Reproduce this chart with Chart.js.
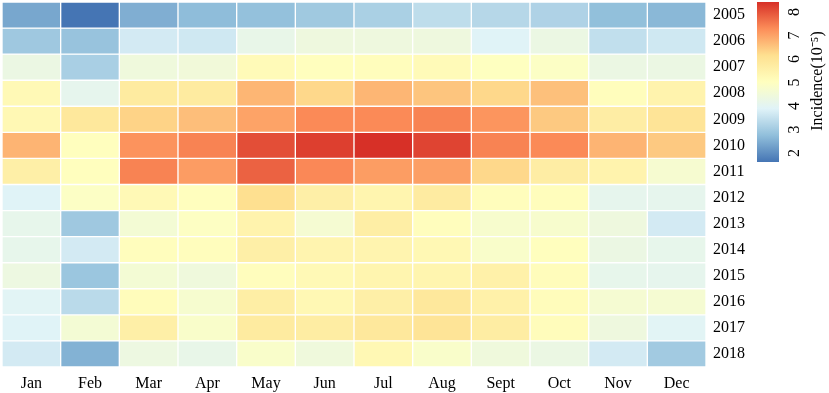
<!DOCTYPE html>
<html>
<head>
<meta charset="utf-8">
<script src="https://cdn.jsdelivr.net/npm/chart.js@4.4.1/dist/chart.umd.min.js"></script>
<style>
  html, body { margin: 0; padding: 0; background: #fff; }
  #wrap { position: relative; width: 829px; height: 393px; }
  #heat { position: absolute; left: 0; top: 0; }
  #legend { position: absolute; left: 750px; top: 0; }
</style>
</head>
<body>
<div id="wrap">
  <canvas id="heat" width="829" height="393"></canvas>
  <canvas id="legend" width="79" height="164"></canvas>
</div>
<script>
// Monthly incidence (per 10^5), one row per year, Jan..Dec
const months = ["Jan", "Feb", "Mar", "Apr", "May", "Jun", "Jul", "Aug", "Sept", "Oct", "Nov", "Dec"];
const years = ["2005", "2006", "2007", "2008", "2009", "2010", "2011", "2012", "2013", "2014", "2015", "2016", "2017", "2018"];

const y2005 = [2.38, 1.62, 2.50, 2.72, 2.80, 2.97, 3.12, 3.40, 3.28, 3.18, 2.77, 2.65];
const y2006 = [2.95, 2.85, 3.70, 3.65, 4.20, 4.40, 4.40, 4.40, 3.90, 4.30, 3.45, 3.65];
const y2007 = [4.30, 3.10, 4.45, 4.50, 5.20, 5.05, 5.10, 5.20, 5.00, 4.90, 4.30, 4.30];
const y2008 = [5.25, 4.10, 5.77, 5.77, 6.73, 6.27, 6.73, 6.53, 6.27, 6.60, 5.10, 5.47];
const y2009 = [5.28, 5.86, 6.34, 6.62, 7.00, 7.33, 7.33, 7.42, 7.19, 6.47, 5.67, 6.00];
const y2010 = [6.76, 5.05, 7.21, 7.42, 8.06, 8.25, 8.43, 8.18, 7.42, 7.33, 6.76, 6.47];
const y2011 = [5.60, 5.05, 7.42, 7.09, 7.82, 7.35, 7.08, 7.05, 6.27, 5.67, 5.45, 4.69];
const y2012 = [3.90, 4.90, 5.25, 5.05, 6.15, 5.60, 5.40, 5.75, 5.10, 5.10, 4.10, 4.10];
const y2013 = [4.15, 2.95, 4.60, 4.95, 5.45, 4.65, 5.65, 5.08, 4.75, 4.75, 4.40, 3.70];
const y2014 = [4.15, 3.70, 5.08, 5.08, 5.60, 5.42, 5.42, 5.28, 4.80, 5.05, 4.30, 4.15];
const y2015 = [4.35, 2.90, 4.60, 4.45, 5.08, 5.25, 5.40, 5.40, 5.55, 5.12, 4.15, 4.10];
const y2016 = [3.95, 3.35, 5.12, 4.70, 5.65, 5.28, 5.60, 5.86, 5.55, 5.12, 4.65, 4.65];
const y2017 = [3.90, 4.60, 5.60, 4.80, 5.77, 5.70, 5.86, 6.00, 5.70, 5.12, 4.40, 3.95];
const y2018 = [3.70, 2.55, 4.35, 4.20, 4.80, 4.45, 5.28, 4.80, 4.45, 4.30, 3.70, 3.00];

const rows = [y2005, y2006, y2007, y2008, y2009, y2010, y2011, y2012, y2013, y2014, y2015, y2016, y2017, y2018];

// colour scale
const scaleMin = 1.62;
const scaleMax = 8.43;
const legendTicks = [2, 3, 4, 5, 6, 7, 8];
const legendTitle = "Incidence(10\u207B\u2075)";
const rampStops = ["#4575b4", "#91bfdb", "#e0f3f8", "#ffffbf", "#fee090", "#fc8d59", "#d73027"];

const FONT = '"Liberation Serif", "Times New Roman", serif';

function hexRgb(h) {
  return [1, 3, 5].map(i => parseInt(h.slice(i, i + 2), 16));
}
const rampRgb = rampStops.map(hexRgb);

function colorFor(v) {
  let t = (v - scaleMin) / (scaleMax - scaleMin);
  t = Math.max(0, Math.min(1, t));
  const pos = t * (rampRgb.length - 1);
  const i = Math.min(Math.floor(pos), rampRgb.length - 2);
  const f = pos - i;
  const a = rampRgb[i], b = rampRgb[i + 1];
  const c = a.map((x, k) => Math.round(x + (b[k] - x) * f));
  return `rgb(${c[0]},${c[1]},${c[2]})`;
}

// no half-label padding at the ends of vertical axes
const noEndPadding = (s) => { s.paddingTop = 0; s.paddingBottom = 0; };

// ---- heatmap: stacked unit bars, one dataset per year ----
new Chart(document.getElementById("heat"), {
  type: "bar",
  data: {
    labels: months,
    datasets: years.map((yr, i) => ({
      label: yr,
      data: months.map(() => 1),
      backgroundColor: rows[i].map(colorFor),
      borderColor: "#ffffff",
      borderWidth: 1,
      borderSkipped: false,
      barPercentage: 1,
      categoryPercentage: 1,
    }))
  },
  options: {
    responsive: false,
    animation: false,
    layout: { padding: { left: 2, top: 2, right: 77, bottom: 0 } },
    plugins: { legend: { display: false }, tooltip: { enabled: false } },
    scales: {
      x: {
        stacked: true,
        grid: { display: false, drawTicks: false },
        border: { display: false },
        afterFit: (s) => { s.height = 26; s.paddingLeft = 0; s.paddingRight = 0; },
        ticks: { color: "#000", font: { family: FONT, size: 16 }, padding: 7 }
      },
      y: { stacked: true, min: 0, max: 14, reverse: true, display: false },
      yYears: {
        axis: "y",
        type: "category",
        labels: years,
        position: "right",
        offset: true,
        grid: { display: false, drawTicks: false },
        border: { display: false },
        afterFit: (s) => { s.width = 46; noEndPadding(s); },
        ticks: { color: "#000", font: { family: FONT, size: 16 }, padding: 7 }
      }
    }
  }
});

// ---- colour bar legend ----
const legendTitlePlugin = {
  id: "legendTitle",
  afterDraw(chart) {
    const ctx = chart.ctx;
    ctx.save();
    ctx.translate(68, 81);
    ctx.rotate(-Math.PI / 2);
    ctx.font = `16px ${FONT}`;
    ctx.fillStyle = "#000";
    ctx.textAlign = "center";
    ctx.textBaseline = "middle";
    ctx.fillText(legendTitle, 0, 0);
    ctx.restore();
  }
};

new Chart(document.getElementById("legend"), {
  type: "bar",
  data: {
    labels: [""],
    datasets: [{
      data: [[scaleMin, scaleMax]],
      backgroundColor: (c) => {
        const { ctx, chartArea, scales } = c.chart;
        if (!chartArea) return rampStops[3];
        const g = ctx.createLinearGradient(0, scales.y.getPixelForValue(scaleMin), 0, scales.y.getPixelForValue(scaleMax));
        rampStops.forEach((col, i) => g.addColorStop(i / (rampStops.length - 1), col));
        return g;
      },
      borderWidth: 0,
      barPercentage: 1,
      categoryPercentage: 1,
    }]
  },
  options: {
    responsive: false,
    animation: false,
    layout: { padding: { left: 7, top: 2, right: 0, bottom: 2 } },
    plugins: { legend: { display: false }, tooltip: { enabled: false } },
    scales: {
      x: { display: false },
      y: {
        position: "right",
        min: scaleMin,
        max: scaleMax,
        grid: { display: false, drawTicks: false },
        border: { display: false },
        afterBuildTicks: (s) => { s.ticks = legendTicks.map(v => ({ value: v })); },
        afterFit: (s) => { s.width = 50; noEndPadding(s); },
        ticks: {
          color: "#000",
          font: { family: FONT, size: 16 },
          minRotation: 90,
          maxRotation: 90,
          crossAlign: "center",
          padding: 12
        }
      }
    }
  },
  plugins: [legendTitlePlugin]
});
</script>
</body>
</html>
